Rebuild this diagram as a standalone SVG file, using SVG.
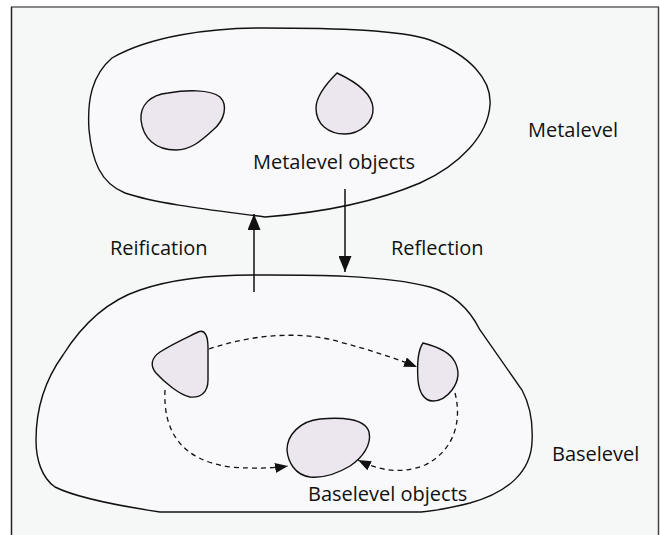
<svg xmlns="http://www.w3.org/2000/svg" width="660" height="535" viewBox="0 0 660 535">
  <style>
    .blob { fill: #f9f8fa; stroke: #111; stroke-width: 1.4; }
    .obj { fill: #ece6ee; stroke: #111; stroke-width: 1.4; }
    .lbl { font-family: "Open Sans", "Liberation Sans", sans-serif; font-size: 20px; fill: #111; }
    .arrow { fill: none; stroke: #111; stroke-width: 1.5; }
    .dash { fill: none; stroke: #111; stroke-width: 1.3; stroke-dasharray: 5 4; }
  </style>
  <defs>
    <marker id="big" markerUnits="userSpaceOnUse" markerWidth="16" markerHeight="13" refX="16" refY="6.5" orient="auto">
      <path d="M0,0 L16,6.5 L0,13 Z" fill="#111"/>
    </marker>
    <marker id="small" markerUnits="userSpaceOnUse" markerWidth="13" markerHeight="10" refX="13" refY="5" orient="auto">
      <path d="M0,0 L13,5 L0,10 Z" fill="#111"/>
    </marker>
  </defs>
  <rect x="0" y="0" width="660" height="535" fill="#ffffff"/>
  <g id="frame">
    <rect x="11" y="7" width="648" height="528" fill="#f6f8f8"/>
    <line x1="11" y1="7" x2="659" y2="7" stroke="#888" stroke-width="2"/>
    <line x1="11.5" y1="7" x2="11.5" y2="535" stroke="#222" stroke-width="1.5"/>
    <line x1="658.5" y1="7" x2="658.5" y2="535" stroke="#444" stroke-width="1.5"/>
  </g>
  <g id="metalevel">
    <path class="blob" d="M 112,58 C 150,36 210,28 262,28 C 340,28 400,30 430,40 C 470,55 492,80 490,105 C 488,135 460,165 420,183 C 380,200 330,212 265,217 C 230,212 160,205 125,193 C 100,183 92,160 89,130 C 87,100 92,75 112,58 Z"/>
    <text class="lbl" x="528" y="137">Metalevel</text>
  </g>
  <g id="meta-obj-1">
    <path class="obj" d="M 168,93 C 185,90 210,89 220,97 C 228,105 225,120 213,130 C 200,142 190,150 176,150 C 155,150 143,138 141,120 C 140,105 150,95 168,93 Z"/>
  </g>
  <g id="meta-obj-2">
    <path class="obj" d="M 337,73 C 352,80 372,92 373,108 C 374,122 360,134 345,134 C 328,134 316,124 316,108 C 316,95 328,82 337,73 Z"/>
  </g>
  <g id="meta-label">
    <text class="lbl" x="253" y="169">Metalevel objects</text>
  </g>
  <g id="baselevel">
    <path class="blob" d="M 160,512 C 120,506 75,497 55,487 C 42,478 36,460 36,440 C 36,410 45,380 63,355 C 85,320 110,300 140,290 C 175,278 215,275 253,275 C 300,275 380,274 430,287 C 455,294 470,310 480,330 L 522,390 C 530,405 533,425 532,442 C 531,470 510,492 470,503 C 450,508 435,511 421,512 L 160,512 Z"/>
    <text class="lbl" x="552" y="461">Baselevel</text>
  </g>
  <g id="base-obj-1">
    <path class="obj" d="M 198,332 C 205,329 208,336 208,348 L 208,380 C 208,393 200,398 190,397 C 180,395 165,383 156,373 C 150,366 151,358 160,352 C 172,344 188,337 198,332 Z"/>
  </g>
  <g id="base-obj-2">
    <path class="obj" d="M 423,343 C 435,346 450,352 455,362 C 460,372 458,382 452,390 C 446,398 440,401 433,401 C 424,401 419,392 418,380 C 417,365 418,350 423,343 Z"/>
  </g>
  <g id="base-obj-3">
    <path class="obj" d="M 320,419 C 340,417 365,418 369,432 C 372,445 362,458 350,466 C 335,475 320,478 310,477 C 295,475 288,462 287,450 C 287,435 300,421 320,419 Z"/>
  </g>
  <g id="base-label">
    <text class="lbl" x="308" y="501">Baselevel objects</text>
  </g>
  <g id="connectors">
    <line class="arrow" x1="254" y1="292" x2="254" y2="214" marker-end="url(#big)"/>
    <line class="arrow" x1="345" y1="189" x2="345" y2="272" marker-end="url(#big)"/>
    <text class="lbl" x="110" y="255">Reification</text>
    <text class="lbl" x="391" y="255">Reflection</text>
    <path class="dash" d="M 209,349 C 250,335 300,330 340,342 C 370,350 395,358 417,367" marker-end="url(#small)"/>
    <path class="dash" d="M 165,390 C 163,430 180,460 230,467 C 255,469 275,468 288,466" marker-end="url(#small)"/>
    <path class="dash" d="M 455,393 C 462,420 455,450 425,465 C 400,475 378,470 358,460" marker-end="url(#small)"/>
  </g>
</svg>
